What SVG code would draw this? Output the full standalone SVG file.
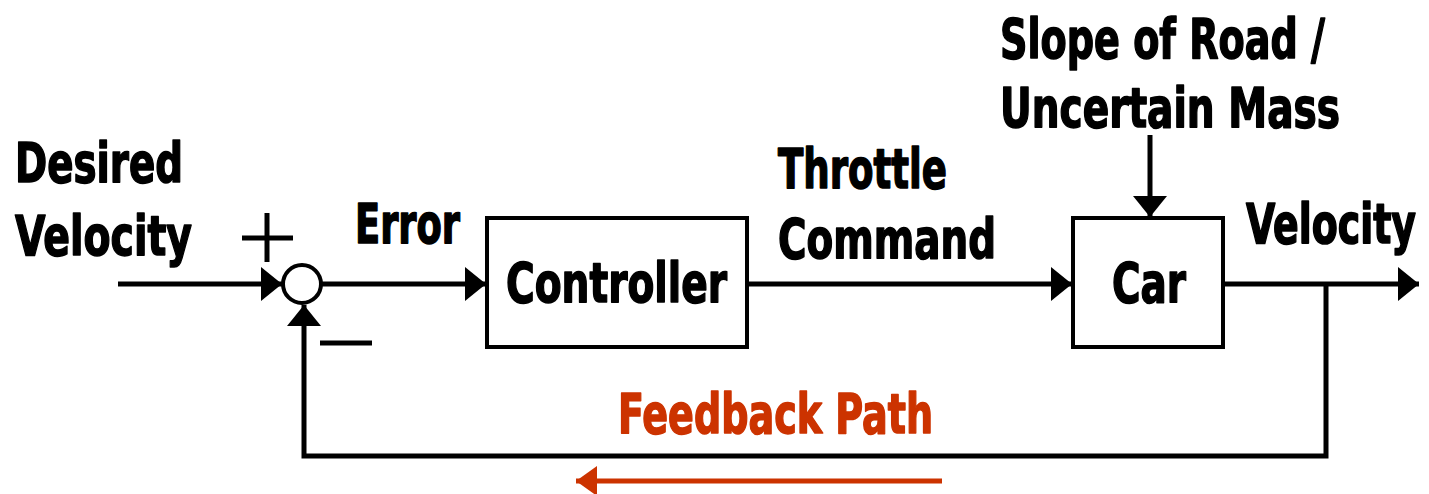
<svg xmlns="http://www.w3.org/2000/svg" width="1429" height="494" viewBox="0 0 1429 494">
  <style>
    .lbl { font-family: "Liberation Sans Narrow", "DejaVu Sans Condensed", "Liberation Sans", sans-serif; font-weight: bold; font-size: 55px; fill: #000; stroke: #000; stroke-width: 1.5; stroke-linejoin: round; }
    .red { fill: #cc3300; stroke: #cc3300; }
    .wire { fill: none; stroke: #000; stroke-width: 5; }
    .box { fill: #fff; stroke: #000; stroke-width: 4; }
  </style>
  <defs>
    <marker id="ah" markerUnits="userSpaceOnUse" viewBox="0 0 21 34" refX="21" refY="17" markerWidth="21" markerHeight="34" orient="auto">
      <path d="M0,0 L21,17 L0,34 Z" fill="#000"/>
    </marker>
    <marker id="ahr" markerUnits="userSpaceOnUse" viewBox="0 0 21 30" refX="21" refY="15" markerWidth="21" markerHeight="30" orient="auto">
      <path d="M0,0 L21,15 L0,30 Z" fill="#cc3300"/>
    </marker>
  </defs>

  <g id="connectors">
    <line class="wire" x1="118" y1="284" x2="282" y2="284" marker-end="url(#ah)"/>
    <line class="wire" x1="322" y1="284" x2="486" y2="284" marker-end="url(#ah)"/>
    <line class="wire" x1="749" y1="284" x2="1072" y2="284" marker-end="url(#ah)"/>
    <line class="wire" x1="1150" y1="135" x2="1150" y2="217" marker-end="url(#ah)"/>
    <line class="wire" x1="1224" y1="284" x2="1419" y2="284" marker-end="url(#ah)"/>
    <polyline class="wire" points="1326,284 1326,456 304,456 304,305" marker-end="url(#ah)"/>
    <line x1="942" y1="481" x2="576" y2="481" stroke="#cc3300" stroke-width="5" marker-end="url(#ahr)"/>
  </g>

  <g id="input-label">
    <text class="lbl" x="15" y="182" textLength="168" lengthAdjust="spacingAndGlyphs">Desired</text>
    <text class="lbl" x="15" y="255" textLength="177" lengthAdjust="spacingAndGlyphs">Velocity</text>
  </g>

  <g id="sum">
    <circle cx="302" cy="284" r="19" fill="#fff" stroke="#000" stroke-width="4"/>
    <line class="wire" x1="242" y1="238" x2="293" y2="238"/>
    <line class="wire" x1="267" y1="213" x2="267" y2="262"/>
    <line class="wire" x1="320" y1="343" x2="372" y2="343"/>
  </g>

  <g id="error-label">
    <text class="lbl" x="355" y="243" textLength="105" lengthAdjust="spacingAndGlyphs">Error</text>
  </g>

  <g id="controller">
    <rect class="box" x="487" y="218" width="260" height="129"/>
    <text class="lbl" x="506" y="302" textLength="221" lengthAdjust="spacingAndGlyphs">Controller</text>
  </g>

  <g id="throttle-label">
    <text class="lbl" x="778" y="188" textLength="169" lengthAdjust="spacingAndGlyphs">Throttle</text>
    <text class="lbl" x="778" y="258" textLength="218" lengthAdjust="spacingAndGlyphs">Command</text>
  </g>

  <g id="disturbance-label">
    <text class="lbl" x="1000" y="58" textLength="325" lengthAdjust="spacingAndGlyphs">Slope of Road /</text>
    <text class="lbl" x="1000" y="127" textLength="340" lengthAdjust="spacingAndGlyphs">Uncertain Mass</text>
  </g>

  <g id="car">
    <rect class="box" x="1073" y="218" width="150" height="129"/>
    <text class="lbl" x="1112" y="302" textLength="74" lengthAdjust="spacingAndGlyphs">Car</text>
  </g>

  <g id="output-label">
    <text class="lbl" transform="translate(1246,243) scale(1,1.25)" x="0" y="0" style="font-size:44px; stroke-width:1.3" textLength="170" lengthAdjust="spacingAndGlyphs">Velocity</text>
  </g>

  <g id="feedback-label">
    <text class="lbl red" x="618" y="433" textLength="315" lengthAdjust="spacingAndGlyphs">Feedback Path</text>
  </g>
</svg>
